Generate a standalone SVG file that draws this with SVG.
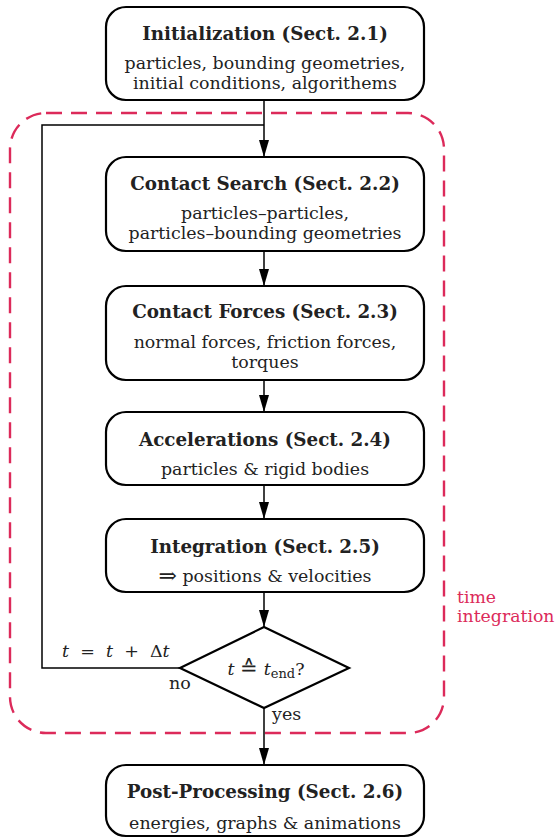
<svg xmlns="http://www.w3.org/2000/svg" width="558" height="838" viewBox="0 0 558 838">
<defs>
<marker id="arr" markerWidth="18" markerHeight="10" refX="17" refY="5" orient="auto" markerUnits="userSpaceOnUse">
<path d="M0,0 L17,5 L0,10 Z" fill="#000"/>
</marker>
<style>
.box{fill:#fff;stroke:#000;stroke-width:2.2}
.t{font-family:"DejaVu Serif",serif;font-size:18.3px;font-weight:bold;text-anchor:middle;fill:#222}
.b{font-family:"DejaVu Serif",serif;font-size:17.4px;text-anchor:middle;fill:#222}
.m{font-family:"DejaVu Serif",serif;font-size:17.5px;fill:#222}
.i{font-style:italic}
.c{stroke:#000;stroke-width:1.5;fill:none}
.red{font-family:"DejaVu Serif",serif;font-size:17.3px;fill:#dc2a5a}
</style>
</defs>
<rect x="10" y="113" width="434" height="620" rx="36" fill="none" stroke="#dc2a5a" stroke-width="2.4" stroke-dasharray="16 9"/>
<text class="red" x="457" y="603">time</text>
<text class="red" x="457" y="622">integration</text>
<g id="connectors">
<line class="c" x1="264" y1="100" x2="264" y2="157" marker-end="url(#arr)"/>
<polyline class="c" points="180,668 42,668 42,125 264,125"/>
<line class="c" x1="264" y1="251" x2="264" y2="286" marker-end="url(#arr)"/>
<line class="c" x1="264" y1="380" x2="264" y2="412" marker-end="url(#arr)"/>
<line class="c" x1="264" y1="485" x2="264" y2="519" marker-end="url(#arr)"/>
<line class="c" x1="264" y1="592" x2="264" y2="627" marker-end="url(#arr)"/>
<line class="c" x1="264" y1="708" x2="264" y2="765" marker-end="url(#arr)"/>
<text class="m" x="62" y="657" xml:space="preserve"><tspan class="i">t</tspan>  =  <tspan class="i">t</tspan>  +  Δ<tspan class="i">t</tspan></text>
<text class="m" x="169" y="689">no</text>
<text class="m" x="272" y="720">yes</text>
</g>
<g id="init">
<rect class="box" x="106" y="7" width="318" height="93" rx="20"/>
<text class="t" x="265" y="40">Initialization (Sect. 2.1)</text>
<text class="b" x="265" y="69">particles, bounding geometries,</text>
<text class="b" x="265" y="89">initial conditions, algorithems</text>
</g>
<g id="search">
<rect class="box" x="106" y="157" width="318" height="94" rx="20"/>
<text class="t" x="265" y="190">Contact Search (Sect. 2.2)</text>
<text class="b" x="265" y="219">particles–particles,</text>
<text class="b" x="265" y="239">particles–bounding geometries</text>
</g>
<g id="forces">
<rect class="box" x="106" y="286" width="318" height="94" rx="20"/>
<text class="t" x="265" y="318">Contact Forces (Sect. 2.3)</text>
<text class="b" x="265" y="348">normal forces, friction forces,</text>
<text class="b" x="265" y="368">torques</text>
</g>
<g id="accel">
<rect class="box" x="106" y="412" width="318" height="73" rx="20"/>
<text class="t" x="265" y="446">Accelerations (Sect. 2.4)</text>
<text class="b" x="265" y="475">particles &amp; rigid bodies</text>
</g>
<g id="integ">
<rect class="box" x="106" y="519" width="318" height="73" rx="20"/>
<text class="t" x="265" y="553">Integration (Sect. 2.5)</text>
<text class="b" x="265" y="582"><tspan font-size="22" dy="1">⇒</tspan><tspan dy="-1"> positions &amp; velocities</tspan></text>
</g>
<g id="decision">
<polygon class="box" points="264,627 349,668 264,708 180,668"/>
<text class="m" x="266" y="675" text-anchor="middle"><tspan class="i">t</tspan> <tspan font-size="21">≙</tspan> <tspan class="i">t</tspan><tspan font-size="13" dy="3">end</tspan><tspan dy="-3">?</tspan></text>
</g>
<g id="post">
<rect class="box" x="106" y="765" width="318" height="71" rx="20"/>
<text class="t" x="265" y="798">Post-Processing (Sect. 2.6)</text>
<text class="b" x="265" y="829">energies, graphs &amp; animations</text>
</g>
</svg>
